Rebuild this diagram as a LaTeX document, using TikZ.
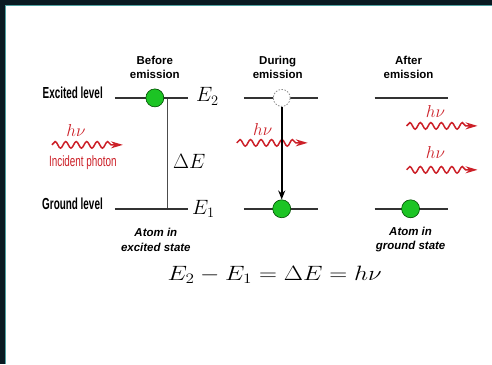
\documentclass[tikz,border=0pt]{standalone}
\usepackage{fontspec}
\setsansfont{Liberation Sans}
\usepackage{xcolor}
\usepackage{tikz}
\usetikzlibrary{arrows.meta,positioning,decorations.pathmorphing}
\definecolor{photred}{RGB}{204,32,40}
\definecolor{atomgreen}{RGB}{28,196,36}
\definecolor{framedark}{RGB}{10,26,34}
\definecolor{frameteal}{RGB}{80,160,160}
\newcommand{\hnu}{$h\nu$}

\begin{document}
\begin{tikzpicture}[x=1pt,y=-1pt,
  >={Stealth[length=9pt,width=7pt]},
  lvl/.style={draw=black!80,line width=1.6pt},
  atom/.style={circle,draw=green!30!black,line width=0.6pt,fill=atomgreen,minimum size=18pt,inner sep=0pt},
  hole/.style={circle,draw=black!45,dash pattern=on 1.5pt off 1.5pt,line width=0.8pt,fill=white,minimum size=17pt,inner sep=0pt},
  ttl/.style={font=\sffamily\bfseries\fontsize{11.5}{14}\selectfont,align=center,inner sep=0pt},
  side/.style={font=\sffamily\bfseries\fontsize{16}{18}\selectfont,xscale=0.62,anchor=east,inner sep=0pt},
  atomcap/.style={font=\sffamily\bfseries\itshape\fontsize{11.5}{14.5}\selectfont,align=center,inner sep=0pt},
  en/.style={font=\fontsize{20}{24}\selectfont,inner sep=0pt,anchor=base west},
  hv/.style={font=\fontsize{17}{20}\selectfont,text=photred,inner sep=0pt,anchor=base},
  photon/.style={draw=photred,line width=1.5pt,decorate,
    decoration={snake,amplitude=3.3pt,segment length=10.5pt,post length=10pt},
    -{Stealth[length=12pt,width=7pt]}}]
% frame
\fill[white] (0,0) rectangle (492,364);
\fill[framedark] (0,0) rectangle (492,5);
\fill[framedark] (0,0) rectangle (5,364);
\draw[frameteal,line width=1pt] (5.5,364) -- (5.5,5.5) -- (492,5.5);
\useasboundingbox (0,0) rectangle (492,364);
% titles
\node[ttl] (tA) at (155,67) {Before\\emission};
\node[ttl] (tB) at (278,67) {During\\emission};
\node[ttl] (tC) at (409,67) {After\\emission};
\node[side] (lbEx) at (103,93) {Excited level};
\node[side] (lbGr) at (103,204) {Ground level};
% energy gap
\coordinate (dEt) at (167,98);
\coordinate (dEb) at (167,209);
\draw[black!70,line width=0.6pt] (dEt)--(dEb);
% levels
\foreach \c/\l/\r in {A/115/188,B/244/318,C/375/448}{
  \coordinate (ex\c1) at (\l,98); \coordinate (ex\c2) at (\r,98);
  \coordinate (gr\c1) at (\l,209); \coordinate (gr\c2) at (\r,209);
  \draw[lvl] (ex\c1)--(ex\c2) (gr\c1)--(gr\c2);
}
\node[en] (e2) at (196,102) {$E_2$};
\node[en] (e1) at (192,215) {$E_1$};
\node[en] (dE) at (173,169) {$\Delta E$};
% photons
\foreach \n/\x/\y in {A/52/145,B/237/143,C/407/126,D/407/170}{
  \coordinate (ph\n1) at (\x,\y); \coordinate (ph\n2) at (\x+71,\y);
  \draw[photon] (ph\n1)--(ph\n2);
}
\node[hv] (hvA) at (76,137) {\hnu};
\node[hv] (hvB) at (263,136) {\hnu};
\node[hv] (hvC) at (436,118) {\hnu};
\node[hv] (hvD) at (436,159) {\hnu};
\node[font=\sffamily\fontsize{15}{18}\selectfont,xscale=0.66,text=photred,inner sep=0pt] (inc) at (83,163) {Incident photon};
% atoms
\node[atom] (atA) at (155,98) {};
\node[hole] (hoB) at (282,98) {};
\node[atom] (atB) at (282,209) {};
\node[atom] (atC) at (411,209) {};
\draw[->,line width=1.8pt] (hoB.south)--(atB.north);
% captions
\node[atomcap] (cpA) at (156,240) {Atom in\\excited state};
\node[atomcap] (cpC) at (411,240) {Atom in\\ground state};
\node[font=\fontsize{20}{24}\selectfont,xscale=1.2,anchor=base,inner sep=0pt] (eq) at (275,281) {$E_2-E_1=\Delta E=h\nu$};
\end{tikzpicture}
\end{document}
